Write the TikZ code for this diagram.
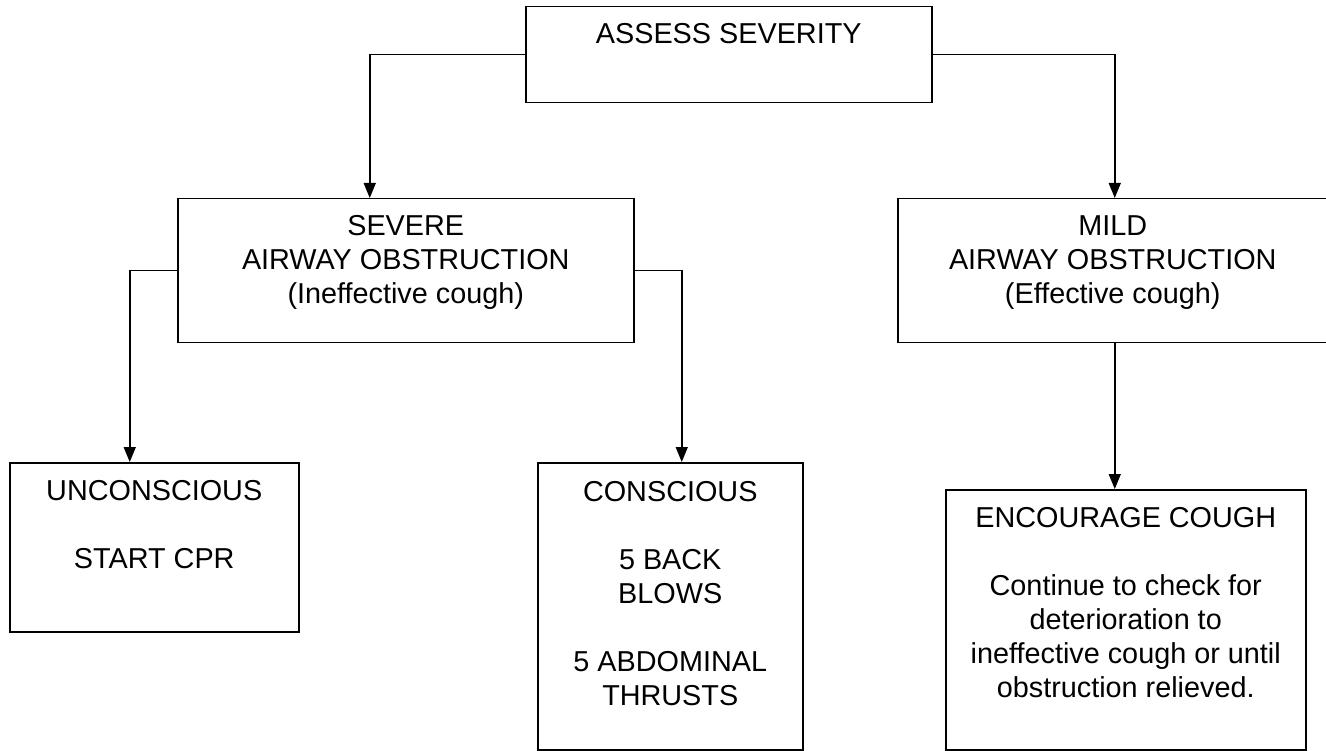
\documentclass[tikz,border=0pt]{standalone}
\usepackage{fontspec}
\setmainfont{Liberation Sans}
\usetikzlibrary{arrows.meta}
\begin{document}
\begin{tikzpicture}[x=1pt,y=1pt,
  box/.style={draw, line width=1.5pt, inner sep=0pt, anchor=north west},
  txt/.style={align=center, anchor=north, inner sep=0pt, font=\fontsize{28.8}{34}\selectfont},
  arr/.style={line width=1.5pt, -{Triangle[length=15pt,width=12pt]}}]
\useasboundingbox (0,0) rectangle (1326,-751);
% boxes
\node[box, minimum width=406pt, minimum height=96pt] (assess) at (525,-6) {};
\node[txt] (assesst) at ([xshift=0pt,yshift=-17pt]assess.north) {ASSESS SEVERITY};
\node[box, minimum width=456pt, minimum height=144pt] (sev) at (177,-198) {};
\node[txt] (sevt) at ([yshift=-17pt]sev.north) {SEVERE\\AIRWAY OBSTRUCTION\\(Ineffective cough)};
\node[box, minimum width=430pt, minimum height=144pt] (mild) at (897,-198) {};
\node[txt] (mildt) at ([yshift=-17pt]mild.north) {MILD\\AIRWAY OBSTRUCTION\\(Effective cough)};
\node[box, minimum width=289pt, minimum height=169pt] (unc) at (9,-462) {};
\node[txt] (unct) at ([yshift=-18pt]unc.north) {UNCONSCIOUS\\[34pt]START CPR};
\node[box, minimum width=265pt, minimum height=287pt] (con) at (537,-462) {};
\node[txt] (cont) at ([yshift=-19pt]con.north) {CONSCIOUS\\[34pt]5 BACK\\BLOWS\\[34pt]5 ABDOMINAL\\THRUSTS};
\node[box, minimum width=360pt, minimum height=260pt] (enc) at (945,-489) {};
\node[txt] (enct) at ([yshift=-18pt]enc.north) {ENCOURAGE COUGH\\[34pt]Continue to check for\\deterioration to\\ineffective cough or until\\obstruction relieved.};
% connectors
\draw[arr] (assess.west) -| ([xshift=-36pt]sev.north);
\draw[arr] (assess.east) -| ([xshift=2pt]mild.north);
\draw[arr] (sev.west) -| ([xshift=-24.5pt]unc.north);
\draw[arr] (sev.east) -| ([xshift=11.5pt]con.north);
\draw[arr] ([xshift=2pt]mild.south) -- ([xshift=2pt]mild.south |- enc.north);
\end{tikzpicture}
\end{document}
